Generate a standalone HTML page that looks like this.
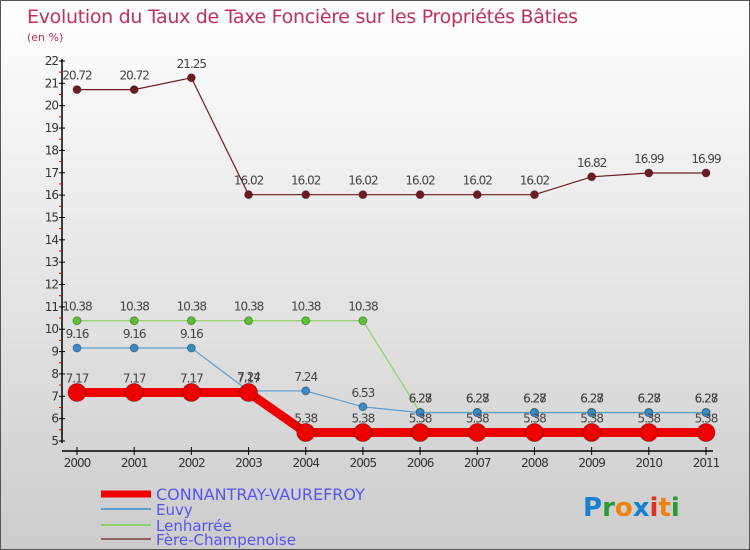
<!DOCTYPE html>
<html><head><meta charset="utf-8"><style>
body{margin:0}
#c{width:750px;height:550px;position:relative;background:linear-gradient(#ffffff,#cccccc);box-sizing:border-box;border:1px solid #555;font-family:"DejaVu Sans","Liberation Sans",sans-serif;overflow:hidden}
svg text{font-family:"DejaVu Sans","Liberation Sans",sans-serif}
</style></head><body>
<div id="c">
<svg id="s" width="750" height="550">
<text x="26" y="22" font-size="19" fill="#c0305a" style="letter-spacing:-0.3px">Evolution du Taux de Taxe Foncière sur les Propriétés Bâties</text>
<text x="26" y="40" font-size="11" fill="#c0305a">(en %)</text>
<g id="axes"></g><g id="series"></g><g id="legend"></g>
<text x="582" y="515" font-size="26" font-weight="bold"><tspan fill="#1a7fd0">P</tspan><tspan fill="#2a9a3a">r</tspan><tspan fill="#f08010">o</tspan><tspan fill="#1a7fd0">x</tspan><tspan fill="#e03020">i</tspan><tspan fill="#f08010">t</tspan><tspan fill="#2a9a3a">i</tspan></text>
</svg></div>
<script>
const years=[2000,2001,2002,2003,2004,2005,2006,2007,2008,2009,2010,2011];
const yTicks=[5,6,7,8,9,10,11,12,13,14,15,16,17,18,19,20,21,22];
const connantray=[7.17,7.17,7.17,7.17,5.38,5.38,5.38,5.38,5.38,5.38,5.38,5.38];
const euvy=[9.16,9.16,9.16,7.24,7.24,6.53,6.27,6.27,6.27,6.27,6.27,6.27];
const lenharree=[10.38,10.38,10.38,10.38,10.38,10.38,6.28,6.28,6.28,6.28,6.28,6.28];
const fere=[20.72,20.72,21.25,16.02,16.02,16.02,16.02,16.02,16.02,16.82,16.99,16.99];
const names=["CONNANTRAY-VAUREFROY","Euvy","Lenharrée","Fère-Champenoise"];
const NS="http://www.w3.org/2000/svg";
const xS=i=>76+i*(705-76)/11;
const yS=v=>440-(v-5)*(380/17);
function mk(t,a,p){const e=document.createElementNS(NS,t);for(const k in a)e.setAttribute(k,a[k]);p.appendChild(e);return e;}
const ax=document.getElementById('axes');
let e=mk('line',{x1:61,y1:58,x2:61,y2:442,stroke:'#000','stroke-width':1.5},ax);

e=mk('line',{x1:61,y1:450,x2:712,y2:450,stroke:'#000','stroke-width':1.5},ax);

yTicks.forEach(v=>{const y=yS(v);
 mk('line',{x1:58,y1:y,x2:64,y2:y,stroke:'#000'},ax);
 if(v<22)mk('line',{x1:58,y1:y-11.2,x2:61,y2:y-11.2,stroke:'#e00000'},ax);
 const t=mk('text',{x:57,y:y+4,'font-size':12,fill:'#333','text-anchor':'end','letter-spacing':'-1'},ax);t.textContent=v;
 });
years.forEach((yr,i)=>{const x=xS(i);
 mk('line',{x1:x,y1:446,x2:x,y2:454,stroke:'#000'},ax);
 const t=mk('text',{x:x,y:466,'font-size':12,fill:'#333','text-anchor':'middle','letter-spacing':'-1'},ax);t.textContent=yr;
 });
const sg=document.getElementById('series');
const defs=[[fere,'#6e1c24','#6e1c24',1.2,4,'fere-champenoise'],[lenharree,'#8fd16a','#5cc033',1.2,4,'lenharree'],[euvy,'#5d9ed0','#3a8ac8',1.2,4,'euvy'],[connantray,'#ee0000','#ee0000',9,9,'connantray-vaurefroy']];
defs.forEach(([d,c,mc,w,r,n])=>{
 const g=mk('g',{},sg);
 const p=mk('polyline',{points:d.map((v,i)=>xS(i)+','+yS(v)).join(' '),fill:'none',stroke:c,'stroke-width':w},g);
 
 d.forEach((v,i)=>{const m=mk('circle',{cx:xS(i),cy:yS(v),r:r,fill:mc,stroke:'rgba(0,0,0,0.3)','stroke-width':1},g);
  
  const t=mk('text',{x:xS(i),y:yS(v)-10,'font-size':12,fill:'#444','text-anchor':'middle','letter-spacing':'-1'},g);t.textContent=v.toFixed(2).replace(/0$/,'').replace(/\.$/,'');
  if(v===7.17||v===10.38||v===20.72)t.textContent=v;
  t.textContent=String(v);
  });
});
const lg=document.getElementById('legend');
const lc=['#ee0000','#5d9ed0','#8fd16a','#8e6464'],lw=[7,2,2,2],ly=[493,508,524,538];
names.forEach((n,i)=>{const g=mk('g',{},lg);
 mk('line',{x1:100,y1:ly[i],x2:150,y2:ly[i],stroke:lc[i],'stroke-width':lw[i]},g);
 const t=mk('text',{x:155,y:ly[i]+6,'font-size':i==0?16:15,fill:'#5555ee'},g);t.textContent=n;});
</script></body></html>
